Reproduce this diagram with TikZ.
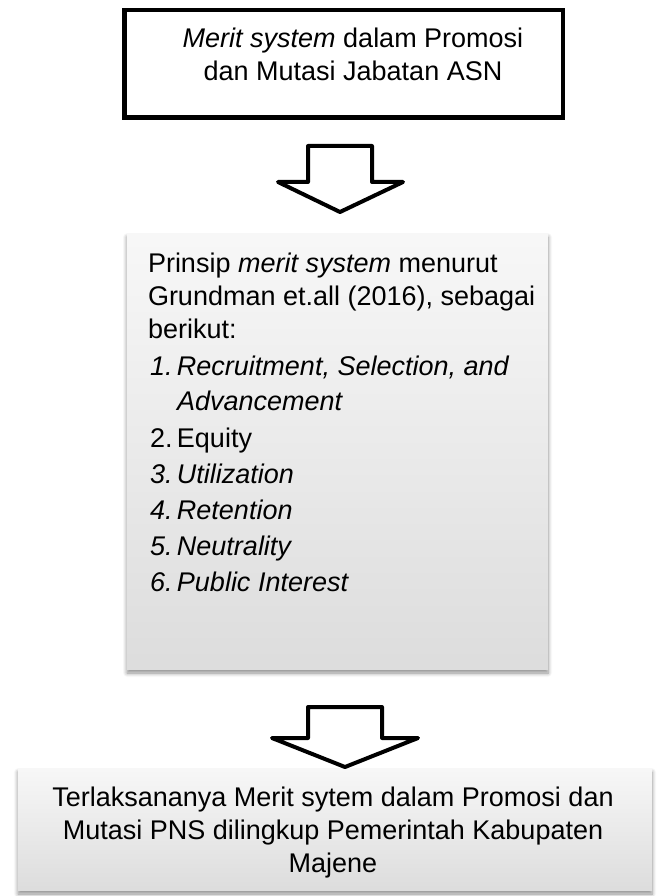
\documentclass[tikz,border=0pt]{standalone}
\usepackage{fontspec}
\setmainfont{Liberation Sans}
\usetikzlibrary{shadows.blur}

\tikzset{
  titlebox/.style={draw, line width=4.5pt, fill=white, inner sep=0pt},
  greybox/.style={top color=gray!6, bottom color=gray!27, inner sep=0pt,
    blur shadow={shadow xshift=0pt, shadow yshift=-4pt, shadow blur radius=4pt,
      shadow blur steps=6, shadow opacity=45}},
  bodytext/.style={inner sep=0pt, font=\fontsize{27}{33}\selectfont},
  blockarrow/.style={draw, line width=4pt, line join=round, fill=white}
}

\begin{document}
\begin{tikzpicture}[x=1pt, y=-1pt]
\useasboundingbox (0,0) rectangle (670,896);

% boxes
\node[titlebox, minimum width=438.5pt, minimum height=107.5pt] (merit) at (343.5,64) {};
\node[greybox, minimum width=421pt, minimum height=436pt] (prinsip) at (337.5,451) {};
\node[greybox, minimum width=634pt, minimum height=122pt] (hasil) at (335,829) {};

% texts
\node[bodytext, anchor=north, align=center] (merittext) at (353,28)
  {\textit{Merit system} dalam Promosi\\dan Mutasi Jabatan ASN};
\node[bodytext, anchor=north west, align=left] (prinsiptext) at ([shift={(21,20)}]prinsip.north west)
  {Prinsip \textit{merit system} menurut\\
   Grundman et.all (2016), sebagai\\
   berikut:\\[4pt]
   \hspace*{2pt}\makebox[27pt][l]{\textit{1.}}\textit{Recruitment, Selection, and}\\[2pt]
   \hspace*{29pt}\textit{Advancement}\\[4pt]
   \hspace*{2pt}\makebox[27pt][l]{2.}Equity\\[3pt]
   \hspace*{2pt}\makebox[27pt][l]{\textit{3.}}\textit{Utilization}\\[3pt]
   \hspace*{2pt}\makebox[27pt][l]{\textit{4.}}\textit{Retention}\\[3pt]
   \hspace*{2pt}\makebox[27pt][l]{\textit{5.}}\textit{Neutrality}\\[3pt]
   \hspace*{2pt}\makebox[27pt][l]{\textit{6.}}\textit{Public Interest}};
\node[bodytext, anchor=north, align=center] (hasiltext) at (333,787)
  {Terlaksananya Merit sytem dalam Promosi dan\\
   Mutasi PNS dilingkup Pemerintah Kabupaten\\
   Majene};

% arrows between the boxes
\draw[blockarrow] (308,146) -- (372,146) -- (372,182) -- (403,182) -- (340,212)
  -- (278,182) -- (308,182) -- cycle;
\draw[blockarrow] (308,707) -- (382,707) -- (382,738) -- (418,738) -- (345,767)
  -- (272,738) -- (308,738) -- cycle;
\end{tikzpicture}
\end{document}
